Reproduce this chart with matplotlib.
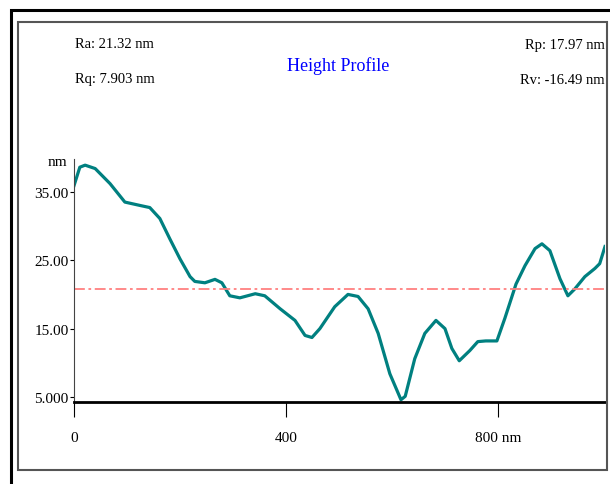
import matplotlib
matplotlib.use("Agg")
import matplotlib.pyplot as plt
from matplotlib.patches import Rectangle

# profile (position in nm, height in nm)
pos = [0, 11, 21, 40, 68, 96, 125, 143, 162, 181, 200, 219, 228, 247, 266, 279,
       294, 313, 342, 360, 389, 417, 436, 449, 464, 492, 517, 536, 555, 574, 596,
       617, 625, 643, 662, 683, 700, 713, 727, 747, 762, 777, 798, 813, 834, 851,
       870, 883, 898, 917, 932, 945, 964, 983, 992, 1002]
height = [35.9, 38.6, 38.9, 38.4, 36.2, 33.5, 33.0, 32.7, 31.1, 28.1, 25.2, 22.6,
          21.9, 21.7, 22.2, 21.7, 19.8, 19.5, 20.1, 19.8, 17.9, 16.2, 14.0, 13.7,
          15.0, 18.2, 20.0, 19.7, 17.9, 14.3, 8.4, 4.6, 5.1, 10.6, 14.3, 16.2,
          15.0, 12.1, 10.3, 11.8, 13.1, 13.2, 13.2, 16.5, 21.5, 24.2, 26.7, 27.4,
          26.4, 22.3, 19.8, 20.8, 22.6, 23.8, 24.5, 27.0]
mean_line = 20.8

yticks = [5.0, 15.0, 25.0, 35.0]
ytick_labels = ["5.000", "15.00", "25.00", "35.00"]
xticks = [0, 400, 800]
xtick_labels = ["0", "400", "800 nm"]

serif = "Liberation Serif"

fig = plt.figure(figsize=(6.1, 4.85), dpi=100)
fig.patches.append(Rectangle((11/610, -0.02), 1.1, 1 - 11/485 + 0.02, transform=fig.transFigure,
                             fill=False, edgecolor="black", linewidth=2.2))
fig.patches.append(Rectangle((18/610, 1 - 471/485), (607 - 18)/610, (471 - 23)/485,
                             transform=fig.transFigure, fill=False, edgecolor="#555555", linewidth=1.5))

ax = fig.add_axes([74/610, 1 - 403/485, (605 - 74)/610, (403 - 160)/485])
ax.plot(pos, height, color="#008080", linewidth=2.3)
ax.axhline(mean_line, color="#ff8080", linestyle=(0, (6, 2, 1.5, 2)), linewidth=1.3)

ax.set_xlim(0, 1002)
ax.set_ylim(4.27, 39.8)
for s in ["top", "right"]:
    ax.spines[s].set_visible(False)
ax.spines["bottom"].set_linewidth(2)
ax.spines["left"].set_color("#444444")
ax.set_yticks(yticks)
ax.set_yticklabels(ytick_labels, family=serif, fontsize=11)
ax.set_xticks(xticks)
ax.set_xticklabels(xtick_labels, family=serif, fontsize=11)
ax.tick_params(axis="y", length=3, pad=1)
ax.tick_params(axis="x", length=11, pad=10)
ax.text(-0.012, 0.99, "nm", transform=ax.transAxes, ha="right", va="center",
        family=serif, fontsize=11)

fig.text(75/610, 1 - 45/485, "Ra: 21.32 nm", family=serif, fontsize=10.5, va="center")
fig.text(75/610, 1 - 80/485, "Rq: 7.903 nm", family=serif, fontsize=10.5, va="center")
fig.text(605/610, 1 - 45/485, "Rp: 17.97 nm", family=serif, fontsize=10.5, va="center", ha="right")
fig.text(605/610, 1 - 80/485, "Rv: -16.49 nm", family=serif, fontsize=10.5, va="center", ha="right")
fig.text(338/610, 1 - 66/485, "Height Profile", family=serif, fontsize=13, color="blue",
         va="center", ha="center")

fig.savefig("out.png", dpi=100)
